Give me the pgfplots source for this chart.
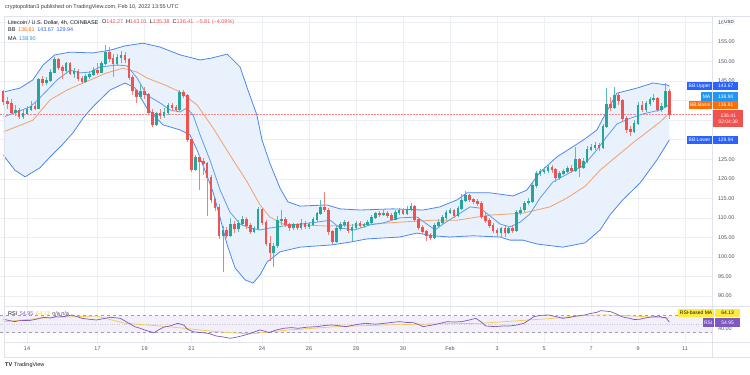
\documentclass[border=0pt]{standalone}
\usepackage{fontspec}
\setmainfont{Liberation Sans}
\usepackage{pgfplots}
\pgfplotsset{compat=1.18}
\usepackage{pgfplotstable}
\usepgfplotslibrary{fillbetween}

\definecolor{upc}{HTML}{26A69A}
\definecolor{dnc}{HTML}{EF5350}
\definecolor{bbline}{HTML}{4F86EE}
\definecolor{maline}{HTML}{5E9DEB}
\definecolor{basis}{HTML}{F6A06B}
\definecolor{bbfill}{HTML}{E8F1FC}
\definecolor{gridc}{HTML}{ECEFF4}
\definecolor{txt}{HTML}{131722}
\definecolor{axtxt}{HTML}{50535E}
\definecolor{bbblue}{HTML}{2962FF}
\definecolor{mablue}{HTML}{2196F3}
\definecolor{orng}{HTML}{FF6D00}
\definecolor{rsip}{HTML}{7E57C2}
\definecolor{rsiy}{HTML}{F2C94C}
\definecolor{rsiybox}{HTML}{FFEB3B}
\definecolor{rsifill}{HTML}{F3EFFA}
\definecolor{frame}{HTML}{E0E3EB}

\newcommand{\fs}{\fontsize{5.5}{6.6}\selectfont}
\newcommand{\fss}{\fontsize{5}{6}\selectfont}

\pgfplotstableread{
k o h l c
0 142.3 142.8 139.0 139.8
1 139.8 140.8 137.8 139.2
2 139.2 140.5 136.5 137.0
3 137.0 139.0 136.0 137.6
4 137.6 138.0 135.2 136.0
5 136.0 137.5 135.3 136.8
6 136.8 138.5 136.2 137.8
7 137.8 139.8 137.4 138.6
8 138.6 139.6 137.5 138.0
9 138.0 145.8 137.8 145.3
10 145.3 146.2 143.8 144.6
11 144.6 146.0 144.0 145.2
12 145.2 148.0 144.8 147.3
13 147.3 151.2 147.0 150.4
14 150.4 150.8 147.8 148.4
15 148.4 149.2 145.5 147.8
16 147.8 149.8 146.8 149.4
17 149.4 149.8 146.5 147.0
18 147.0 148.3 145.8 147.4
19 147.4 148.0 145.0 145.6
20 145.6 146.4 144.2 145.0
21 145.0 146.8 144.5 146.2
22 146.2 147.6 145.6 146.8
23 146.8 148.5 146.2 147.8
24 147.8 149.6 146.6 147.2
25 147.2 150.2 147.0 149.5
26 149.5 154.2 149.0 152.2
27 152.2 153.8 150.0 150.8
28 150.8 152.0 146.0 149.5
29 149.5 152.0 148.8 151.0
30 151.0 152.8 149.5 151.6
31 151.6 152.5 149.5 150.5
32 150.5 150.8 145.2 146.0
33 146.0 146.5 141.5 142.5
34 142.5 143.0 139.5 141.0
35 141.0 144.5 140.5 142.3
36 142.3 143.5 140.3 141.6
37 141.6 142.0 136.5 137.0
38 137.0 137.8 133.2 134.0
39 134.0 137.2 133.5 136.8
40 136.8 137.8 135.2 136.2
41 136.2 138.0 135.6 137.0
42 137.0 139.4 136.2 138.8
43 138.8 139.5 137.4 138.2
44 138.2 139.0 137.0 137.8
45 137.8 142.8 137.4 142.2
46 142.2 142.6 140.6 141.2
47 141.2 141.6 129.4 130.0
48 130.0 130.4 121.8 122.4
49 122.4 126.0 122.0 125.5
50 125.5 126.0 117.2 124.4
51 124.4 125.2 121.0 123.8
52 123.8 124.4 110.5 120.4
53 120.4 121.0 113.8 114.6
54 114.6 115.2 111.8 112.6
55 112.6 113.5 104.6 105.4
56 105.4 107.8 96.1 106.8
57 106.8 107.6 104.8 105.4
58 105.4 110.0 105.0 108.4
59 108.4 109.2 106.0 107.2
60 107.2 109.4 106.5 108.6
61 108.6 110.4 107.8 109.6
62 109.6 110.2 107.2 108.0
63 108.0 108.6 105.8 106.5
64 106.5 108.0 106.0 107.2
65 107.2 112.8 106.8 112.2
66 112.2 112.6 108.2 108.8
67 108.8 109.4 102.8 103.4
68 103.4 105.4 99.0 101.0
69 101.0 103.6 97.4 102.8
70 102.8 110.4 102.3 109.2
71 109.2 112.0 108.2 109.6
72 109.6 110.2 107.6 108.2
73 108.2 108.8 106.6 107.4
74 107.4 108.8 106.8 108.2
75 108.2 108.8 107.0 107.6
76 107.6 109.6 107.0 108.6
77 108.6 109.2 107.2 107.8
78 107.8 109.0 107.2 108.4
79 108.4 110.2 108.0 109.6
80 109.6 111.6 109.0 111.2
81 111.2 114.6 110.8 112.6
82 112.6 116.6 111.4 112.0
83 112.0 112.4 105.6 106.4
84 106.4 107.0 103.2 104.0
85 104.0 108.0 103.6 107.2
86 107.2 109.0 106.6 108.2
87 108.2 109.4 107.6 108.8
88 108.8 109.2 106.2 106.8
89 106.8 108.4 104.0 107.6
90 107.6 109.2 107.0 108.6
91 108.6 109.2 107.4 108.0
92 108.0 108.8 107.4 108.2
93 108.2 109.4 107.8 108.8
94 108.8 110.8 108.4 110.2
95 110.2 111.6 109.6 111.0
96 111.0 111.8 110.2 110.8
97 110.8 112.0 110.4 111.2
98 111.2 111.8 110.0 110.6
99 110.6 111.2 109.2 109.6
100 109.6 112.0 109.4 111.4
101 111.4 112.6 110.8 112.0
102 112.0 112.4 110.6 111.2
103 111.2 113.0 110.8 112.2
104 112.2 113.8 111.8 112.8
105 112.8 113.2 109.0 109.6
106 109.6 110.2 107.0 107.6
107 107.6 108.2 105.8 106.4
108 106.4 107.0 104.2 105.4
109 105.4 106.2 104.4 105.0
110 105.0 108.6 104.6 108.0
111 108.0 109.6 107.6 108.8
112 108.8 110.6 108.4 110.0
113 110.0 112.0 109.4 111.4
114 111.4 112.6 111.0 111.8
115 111.8 112.2 110.0 110.6
116 110.6 113.0 110.2 112.4
117 112.4 116.0 112.0 114.4
118 114.4 116.8 114.0 115.6
119 115.6 116.0 114.0 114.6
120 114.6 115.2 113.6 114.2
121 114.2 114.8 113.0 113.6
122 113.6 114.4 109.8 110.4
123 110.4 111.2 108.6 109.2
124 109.2 110.0 107.4 108.0
125 108.0 108.6 106.0 106.8
126 106.8 107.4 105.4 106.2
127 106.2 107.6 104.8 107.2
128 107.2 107.8 105.0 106.2
129 106.2 108.0 105.8 107.4
130 107.4 108.0 106.2 106.8
131 106.8 112.0 106.4 111.4
132 111.4 112.8 110.8 112.0
133 112.0 114.4 111.4 113.8
134 113.8 115.0 113.2 114.2
135 114.2 118.8 113.8 118.2
136 118.2 122.0 117.6 121.4
137 121.4 122.6 120.8 121.8
138 121.8 123.0 121.2 122.0
139 122.0 123.8 121.6 123.0
140 123.0 123.6 121.6 122.4
141 122.4 122.8 119.2 120.4
142 120.4 122.0 119.8 121.4
143 121.4 122.4 121.0 121.8
144 121.8 123.2 121.4 122.6
145 122.6 123.4 121.4 122.2
146 122.2 128.0 121.8 125.0
147 125.0 125.4 120.4 123.0
148 123.0 125.2 122.6 124.4
149 124.4 128.4 124.0 127.6
150 127.6 128.8 127.0 128.0
151 128.0 129.4 127.4 128.6
152 128.6 129.2 127.2 128.0
153 128.0 134.0 127.6 133.4
154 133.4 143.2 133.0 139.0
155 139.0 141.0 137.4 138.2
156 138.2 143.6 137.8 141.2
157 141.2 142.0 139.0 140.0
158 140.0 140.4 134.8 135.4
159 135.4 136.0 131.8 132.6
160 132.6 133.4 131.0 132.2
161 132.2 135.0 131.8 134.2
162 134.2 139.6 133.8 138.8
163 138.8 140.0 137.0 137.6
164 137.6 140.0 137.2 139.2
165 139.2 141.0 138.6 140.2
166 140.2 141.6 139.6 140.6
167 140.6 141.0 137.0 137.6
168 137.6 139.4 137.2 138.6
169 138.6 144.4 138.0 142.27
170 142.27 143.01 135.38 136.41
}\candles

\pgfplotstableread{
k p
0 142.2
4.2 143.2
7.5 145.3
10.1 149.1
13.1 151.7
17 152.4
22.8 152.2
27.2 152.9
31 154.0
35.6 154.7
40 153.7
45.1 151.7
50.2 150.4
53.2 150.9
57.1 151.9
60.4 148.6
62.4 142.7
64.7 136.3
66 129.9
68 124.0
70.6 117.6
72.6 114.1
75.7 113.0
82.6 113.3
85.9 112.3
91 112.0
99.4 112.3
107.1 112.0
111.4 112.8
115.8 114.6
118.3 116.4
124.2 116.4
130.1 115.6
133.6 117.1
137 121.7
141.3 125.6
148 129.9
151.5 132.5
153.5 136.3
156.6 141.9
161.7 143.2
165.8 144.5
169.4 144.0
170 143.67
}\upperT

\pgfplotstableread{
k p
0 126.0
2.9 122.2
5.5 120.5
9.3 122.8
11.9 125.6
14.9 128.6
17.7 131.7
20.3 135.5
22.8 138.4
27.2 142.7
31 144.5
33.6 143.2
36.6 138.1
40.7 133.8
45.1 132.5
47.6 131.2
49.4 127.4
51.4 122.2
53.5 116.6
55.3 110.0
57.1 103.1
59.1 97.2
61.7 94.1
63.7 93.3
65.5 95.4
67.3 98.7
70.6 101.3
75.7 102.5
84.1 103.1
88.5 103.8
92.8 104.6
101.2 105.1
105.6 106.1
109.6 105.4
114 105.1
119.9 105.4
126.8 105.1
129.3 104.3
132.6 104.3
136.2 103.3
142.8 102.5
148.5 103.6
152.3 106.9
154.8 110.7
158.1 114.6
162.5 118.9
166.8 124.8
170 129.94
}\lowerT

\pgfplotstableread{
k p
0 132.0
7.5 135.0
11.9 140.2
16.2 142.7
20.3 144.5
26.4 147.1
30.5 148.3
34.1 147.3
36.6 145.8
41.2 144.0
45.1 142.2
49.4 138.9
53.5 133.0
57.8 126.1
62.2 119.2
65.5 113.3
68 110.2
71.4 108.4
75.7 108.2
82.6 107.9
91 108.2
101.2 108.9
109.6 109.4
115.8 109.4
124.2 110.7
132.6 111.2
139.5 112.8
143.9 115.1
148.5 118.1
152.3 122.2
156.6 125.8
160.7 129.2
165 132.5
167.6 134.5
170 136.81
}\basisT

\pgfplotstableread{
k p
0 135.8
6.8 138.4
8.8 140.2
13.7 145.3
17 147.8
19.5 147.1
22.1 147.3
24.6 148.6
29 149.1
31.5 148.9
34.1 145.8
36.6 141.4
40 139.4
42.5 137.6
45.1 137.1
46.8 138.1
48.4 136.3
50.2 131.2
52.7 124.8
55.3 117.1
57.8 111.5
60.4 108.4
62.9 107.4
65.5 106.9
68 107.4
71.4 107.9
75.7 108.4
80 108.9
83.4 109.4
85.9 107.4
89.7 106.9
93.6 108.2
96.9 108.7
101.2 110.0
105.6 110.2
108.1 108.4
110.2 106.9
112.2 108.4
115.8 110.7
119.1 112.8
121.6 112.5
124.2 110.5
126.8 108.4
129.3 107.7
131.9 108.9
134.4 111.0
137 115.1
140.3 119.2
143.9 121.2
148 123.3
151.5 127.4
154.1 130.9
156.6 134.0
160 135.5
163.3 136.6
167.6 137.6
170 138.90
}\maT

\pgfplotstableread{
k r
0 61.5
2.8 56.0
4.5 59.0
6.5 58.4
8.5 62.0
10.2 66.2
12 64.5
13.8 69.3
15.5 68.0
17.5 71.7
19 67.0
20 63.8
22 61.5
23.7 59.9
25.5 63.0
27.3 66.2
29.8 63.8
31.5 55.0
33.5 44.2
35 40.0
36 36.4
38.4 30.1
39.5 36.0
40.8 42.7
42.5 46.0
44.5 52.1
46 48.0
47 38.0
48.5 32.0
50.7 30.1
52.5 28.0
54.3 22.3
56 20.0
58 16.8
60 20.5
61.7 24.6
63.5 30.0
65.4 36.4
66.5 34.0
67.8 30.1
69.5 36.0
71.5 40.3
73.5 42.0
75.2 40.3
77.5 43.0
80.1 44.2
82 47.0
83.8 48.2
85.5 46.5
87.5 44.2
90 49.0
92.4 52.1
95 50.0
97.3 52.1
99 54.0
101 56.0
103 54.0
104.7 53.6
106 49.0
107.1 44.2
109.6 48.2
111.5 52.0
113.3 56.0
115 55.0
117 56.0
119 60.0
120.6 63.8
122 55.0
123.1 45.8
125.5 44.2
127.5 46.0
129.2 45.8
131 48.0
132.9 52.1
134.5 62.0
135.4 67.8
137 70.5
139 71.7
141 68.0
142.7 63.8
144.5 66.0
146.4 69.3
148.5 72.0
150.1 75.6
151.5 78.0
152.5 81.9
154 80.5
155 79.5
156.5 74.0
157.4 69.3
158.5 66.0
159.9 63.8
161 61.0
162.4 61.5
163.5 64.0
164.8 66.2
166 67.5
167.3 69.3
168.5 65.0
169 66.2
170 54.95
}\rsiT

\pgfplotstableread{
k r
0 56.0
11.4 65.4
23.7 69.3
31 52.1
42.1 44.2
54.3 32.5
63 27.0
72.8 36.4
85 44.2
97.3 48.2
109.6 50.5
121.9 52.1
134.1 59.9
140.3 63.8
146.4 69.3
152.5 72.0
158.7 70.5
164.8 67.0
170 64.13
}\rsimaT

\tikzset{
  lab/.style={anchor=east, inner xsep=1.5bp, inner ysep=0bp, minimum height=8.5bp, font=\fss, text=white},
  val/.style={anchor=west, inner xsep=1bp, inner ysep=0bp, minimum height=8.5bp, minimum width=25bp, font=\fss, text=white},
}

\pgfplotsset{
  candle/.style 2 args={draw=none, mark=none,
    error bars/y dir=both, error bars/y explicit, error bars/error mark=none,
    error bars/error bar style={draw=#1, line width=#2, solid}},
}

\begin{document}
\begin{tikzpicture}

% price pane
\begin{axis}[
  at={(0bp,69bp)}, anchor=south west, scale only axis,
  width=712bp, height=290bp,
  xmin=-0.894, xmax=180.88, ymin=87.44, ymax=161.65,
  axis line style={draw=none}, tick style={draw=none},
  xtick={6,24,36,48,66,78,90,102,114,126,138,150,162,174}, xticklabels={},
  ytick={90,95,100,105,110,115,120,125,145,150,155,160},
  extra y ticks={130,135,140}, extra y tick labels={},
  yticklabel pos=right,
  yticklabel style={font=\fs, text=axtxt, xshift=2.5bp, /pgf/number format/.cd, fixed, fixed zerofill, precision=2, assume math mode=true},
  grid=major, major grid style={gridc, line width=0.5bp},
  extra tick style={grid=major, major grid style={gridc, line width=0.5bp}, tick style={draw=none}},
]
\addplot[draw=none, name path=U] table[x=k,y=p]{\upperT};
\addplot[draw=none, name path=L] table[x=k,y=p]{\lowerT};
\addplot[fill=bbfill, draw=none] fill between[of=U and L];
\addplot[dnc!70, densely dotted, line width=0.5bp] coordinates {(-1,136.41) (182,136.41)};
\addplot[basis, line width=0.8bp] table[x=k,y=p]{\basisT};
\addplot[maline, line width=0.8bp] table[x=k,y=p]{\maT};
\addplot[bbline, line width=0.8bp] table[x=k,y=p]{\upperT};
\addplot[bbline, line width=0.8bp] table[x=k,y=p]{\lowerT};
% wicks
\addplot[candle={upc!75}{0.6bp}]
  table[x expr={\thisrow{c}>=\thisrow{o} ? \thisrow{k} : -50}, y expr={(\thisrow{h}+\thisrow{l})/2}, y error expr={(\thisrow{h}-\thisrow{l})/2}]{\candles};
\addplot[candle={dnc!75}{0.6bp}]
  table[x expr={\thisrow{c}<\thisrow{o} ? \thisrow{k} : -50}, y expr={(\thisrow{h}+\thisrow{l})/2}, y error expr={(\thisrow{h}-\thisrow{l})/2}]{\candles};
% bodies
\addplot[candle={upc}{2.6bp}]
  table[x expr={\thisrow{c}>=\thisrow{o} ? \thisrow{k} : -50}, y expr={(\thisrow{o}+\thisrow{c})/2}, y error expr={abs(\thisrow{c}-\thisrow{o})/2+0.12}]{\candles};
\addplot[candle={dnc}{2.6bp}]
  table[x expr={\thisrow{c}<\thisrow{o} ? \thisrow{k} : -50}, y expr={(\thisrow{o}+\thisrow{c})/2}, y error expr={abs(\thisrow{c}-\thisrow{o})/2+0.12}]{\candles};
\end{axis}

% RSI pane
\begin{axis}[
  at={(0bp,33bp)}, anchor=south west, scale only axis,
  width=712bp, height=36bp,
  xmin=-0.894, xmax=180.88, ymin=8.1, ymax=92.8,
  axis line style={draw=none}, tick style={draw=none},
  xtick={6,24,36,48,66,78,90,102,114,126,138,150,162,174},
  xticklabels={14,17,19,21,24,26,28,30,Feb,3,5,7,9,11},
  xticklabel style={font=\fs, text=axtxt, yshift=-1.5bp},
  xmajorgrids, major grid style={gridc, line width=0.5bp},
  ytick={40}, yticklabel pos=right,
  yticklabel style={font=\fs, text=axtxt, xshift=2.5bp, /pgf/number format/.cd, fixed, fixed zerofill, precision=2, assume math mode=true},
]
\addplot[draw=none, fill=rsifill] coordinates {(-1,30) (182,30) (182,70) (-1,70)};
\addplot[axtxt!55, dashed, line width=0.4bp] coordinates {(-1,70) (182,70)};
\addplot[axtxt!55, dashed, line width=0.4bp] coordinates {(-1,30) (182,30)};
\addplot[axtxt!30, dotted, line width=0.4bp] coordinates {(-1,50) (182,50)};
\addplot[rsiy, line width=0.7bp] table[x=k,y=r]{\rsimaT};
\addplot[rsip, line width=0.7bp] table[x=k,y=r]{\rsiT};
\end{axis}

% frame lines
\draw[frame, line width=0.5bp] (4bp,359bp) -- (750bp,359bp);
\draw[frame, line width=0.5bp] (4bp,69bp) -- (750bp,69bp);
\draw[frame, line width=0.5bp] (4bp,33bp) -- (750bp,33bp);
\draw[frame, line width=0.5bp] (4bp,18bp) -- (750bp,18bp);
\draw[frame, line width=0.5bp] (4bp,18bp) -- (4bp,359bp);
\draw[frame, line width=0.5bp] (712bp,18bp) -- (712bp,359bp);

% header
\node[anchor=west, font=\fs, text=txt!85, inner sep=0pt] at (5bp,367.5bp) {cryptopolitan3 published on TradingView.com, Feb 10, 2022 13:55 UTC};
\node[anchor=west, font=\fs, text=txt, inner sep=0pt] at (8bp,352.5bp) {Litecoin / U.S. Dollar, 4h, COINBASE};
\node[anchor=west, font=\fs, text=txt, inner sep=0pt] at (102bp,352.5bp) {O\textcolor{dnc}{142.27}\hspace{3bp}H\textcolor{dnc}{143.01}\hspace{3bp}L\textcolor{dnc}{135.38}\hspace{3bp}C\textcolor{dnc}{136.41}\hspace{3bp}\textcolor{dnc}{−5.81 (−4.09\%)}};
\node[anchor=west, font=\fs, text=txt, inner sep=0pt] at (8bp,345bp) {BB\hspace{2.5bp}\textcolor{orng}{136.81}\hspace{2.5bp}\textcolor{bbblue}{143.67}\hspace{2.5bp}\textcolor{bbblue}{129.94}};
\node[anchor=west, font=\fs, text=txt, inner sep=0pt] at (8bp,336.5bp) {MA\hspace{2.5bp}\textcolor{mablue}{138.90}};
\node[anchor=west, font=\fs, text=txt, inner sep=0pt] at (8bp,61.5bp) {RSI\hspace{2.5bp}\textcolor{rsip}{54.95}\hspace{2.5bp}\textcolor{rsiy}{64.13}\hspace{2.5bp}\textcolor{axtxt}{n/a n/a}};

% price scale labels
\node[draw=frame, fill=white, rounded corners=1bp, font=\fontsize{4.5}{5}\selectfont, inner sep=1bp, text=txt] at (729bp,353.5bp) {USD};
\node[lab, fill=bbblue] at (712bp,289bp) {BB:Upper};
\node[val, fill=bbblue] at (713bp,289bp) {143.67};
\node[lab, fill=mablue] at (712bp,278.5bp) {MA};
\node[val, fill=mablue] at (713bp,278.5bp) {138.90};
\node[lab, fill=orng] at (712bp,270bp) {BB:Basis};
\node[val, fill=orng] at (713bp,270bp) {136.81};
\node[val, fill=dnc, anchor=north west, minimum height=17.5bp, minimum width=30bp, align=center] at (713bp,265.5bp) {136.41\\02:04:38};
\node[lab, fill=bbblue] at (712bp,235bp) {BB:Lower};
\node[val, fill=bbblue] at (713bp,235bp) {129.94};
% RSI scale labels
\node[lab, fill=rsiybox, text=txt] at (714bp,62bp) {RSI-based MA};
\node[val, fill=rsiybox, text=txt] at (715bp,62bp) {64.13};
\node[lab, fill=rsip] at (714bp,52.5bp) {RSI};
\node[val, fill=rsip] at (715bp,52.5bp) {54.95};

% footer logo
\node[anchor=west, font=\fs, text=txt, inner sep=0pt] at (5bp,10bp) {\textbf{TV}\hspace{2bp}TradingView};

\pgfresetboundingbox
\path (0bp,0bp) rectangle (750bp,375bp);
\end{tikzpicture}
\end{document}
